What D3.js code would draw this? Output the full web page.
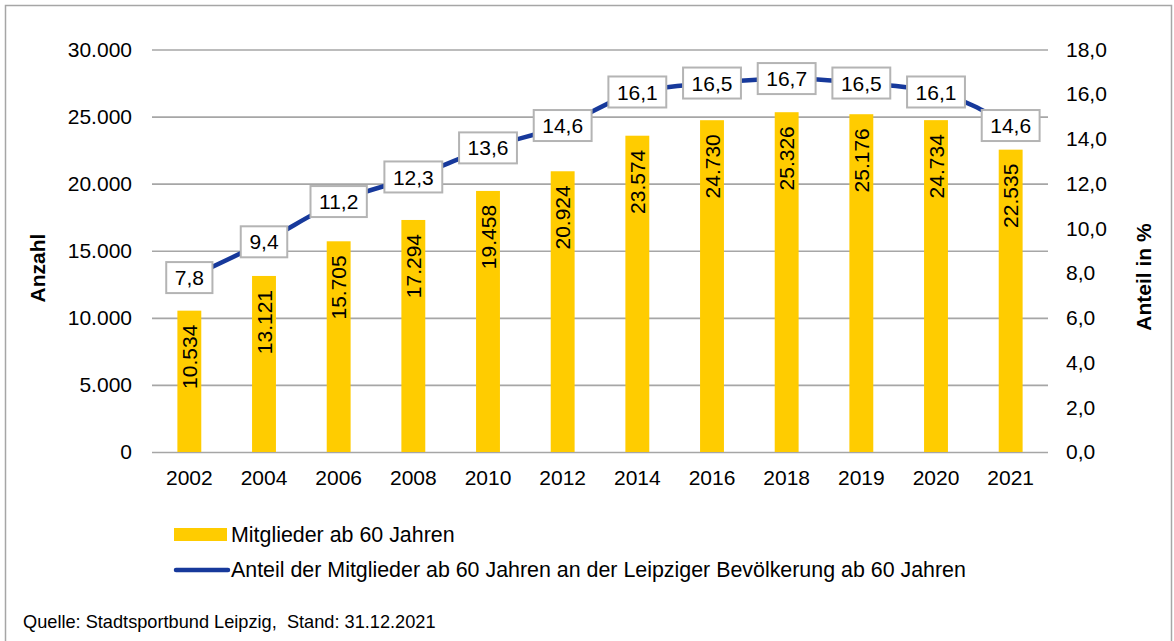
<!DOCTYPE html>
<meta charset="utf-8">
<style>

body {
  margin: 0;
  background: #fff;
}

text {
  font-family: "Liberation Sans", Arial, sans-serif;
  fill: #000;
}

.axis-title {
  font-weight: bold;
  font-size: 21px;
}

</style>
<body>
<script src="https://cdn.jsdelivr.net/npm/d3@7"></script>
<script>

var years = ["2002", "2004", "2006", "2008", "2010", "2012", "2014", "2016", "2018", "2019", "2020", "2021"],
	members = [10534, 13121, 15705, 17294, 19458, 20924, 23574, 24730, 25326, 25176, 24734, 22535],
	share = [7.8, 9.4, 11.2, 12.3, 13.6, 14.6, 16.1, 16.5, 16.7, 16.5, 16.1, 14.6],
	leftTicks = [0, 5000, 10000, 15000, 20000, 25000, 30000],
	rightTicks = [0, 2, 4, 6, 8, 10, 12, 14, 16, 18],
	legendLabels = ["Mitglieder ab 60 Jahren", "Anteil der Mitglieder ab 60 Jahren an der Leipziger Bevölkerung ab 60 Jahren"],
	source = "Quelle: Stadtsportbund Leipzig,\u00a0 Stand: 31.12.2021";

var width = 1174,
	height = 641,
	plot = {left: 152, right: 1048, top: 49.5, bottom: 452};

var de = d3.formatLocale({decimal: ",", thousands: ".", grouping: [3], currency: ["", " €"]}),
	fmtInt = de.format(",d"),
	fmtPct = de.format(".1f");

var svg = d3.select("body").append("svg")
	.attr("width", width)
	.attr("height", height);

// outer frame
svg.append("rect")
	.attr("x", 5.5).attr("y", 5.5)
	.attr("width", 1166).attr("height", 660)
	.attr("fill", "none")
	.attr("stroke", "#a6a6a6")
	.attr("stroke-width", 1.5);

var x = d3.scaleBand()
	.domain(years)
	.range([plot.left, plot.right])
	.paddingInner(0.68)
	.paddingOuter(0.34);

var yLeft = d3.scaleLinear().domain([0, 30000]).range([plot.bottom, plot.top]),
	yRight = d3.scaleLinear().domain([0, 18]).range([plot.bottom, plot.top]);

// gridlines + left axis
var leftAxis = svg.append("g")
	.attr("transform", "translate(" + plot.left + ",0)")
	.call(d3.axisLeft(yLeft).tickValues(leftTicks).tickFormat(fmtInt)
		.tickSize(-(plot.right - plot.left)).tickPadding(20));
leftAxis.select(".domain").remove();
leftAxis.selectAll("line").attr("stroke", "#a6a6a6").attr("stroke-width", 1.6);
leftAxis.selectAll("text")
	.attr("font-size", 21)
	.attr("font-family", "Liberation Sans, Arial, sans-serif");

// right axis
var rightAxis = svg.append("g")
	.attr("transform", "translate(" + plot.right + ",0)")
	.call(d3.axisRight(yRight).tickValues(rightTicks).tickFormat(fmtPct)
		.tickSize(0).tickPadding(18));
rightAxis.select(".domain").remove();
rightAxis.selectAll("text")
	.attr("font-size", 21)
	.attr("font-family", "Liberation Sans, Arial, sans-serif");

// bottom axis
var bottomAxis = svg.append("g")
	.attr("transform", "translate(0," + plot.bottom + ")")
	.call(d3.axisBottom(x).tickSize(0).tickPadding(18));
bottomAxis.select(".domain").remove();
bottomAxis.selectAll("text")
	.attr("font-size", 21)
	.attr("font-family", "Liberation Sans, Arial, sans-serif");

// bars
svg.append("g").selectAll("rect")
	.data(members)
	.enter().append("rect")
	.attr("x", function(d, i) { return x(years[i]); })
	.attr("y", function(d) { return yLeft(d); })
	.attr("width", x.bandwidth())
	.attr("height", function(d) { return plot.bottom - yLeft(d); })
	.attr("fill", "#ffcc00");

// bar labels
svg.append("g").selectAll("text")
	.data(members)
	.enter().append("text")
	.attr("transform", function(d, i) {
		return "translate(" + (x(years[i]) + x.bandwidth() / 2) + "," + (yLeft(d) + 14) + ") rotate(-90)";
	})
	.attr("text-anchor", "end")
	.attr("dy", "0.36em")
	.attr("font-size", 21)
	.text(function(d) { return fmtInt(d); });

// share line
var cx = function(i) { return x(years[i]) + x.bandwidth() / 2; };

var line = d3.line()
	.x(function(d, i) { return cx(i); })
	.y(function(d) { return yRight(d); })
	.curve(d3.curveMonotoneX);

svg.append("path")
	.datum(share)
	.attr("d", line)
	.attr("fill", "none")
	.attr("stroke", "#17399b")
	.attr("stroke-width", 4.5);

// line labels in boxes
var boxes = svg.append("g").selectAll("g")
	.data(share)
	.enter().append("g")
	.attr("transform", function(d, i) { return "translate(" + cx(i) + "," + yRight(d) + ")"; });

boxes.append("text")
	.attr("text-anchor", "middle")
	.attr("dy", "0.36em")
	.attr("font-size", 21)
	.text(function(d) { return fmtPct(d); });

boxes.each(function() {
	var g = d3.select(this),
		bb = g.select("text").node().getBBox(),
		w = bb.width + 17,
		h = 31;
	g.insert("rect", "text")
		.attr("x", -w / 2).attr("y", -h / 2)
		.attr("width", w).attr("height", h)
		.attr("fill", "#fff")
		.attr("stroke", "#b4b4b4")
		.attr("stroke-width", 2);
});

// axis titles
svg.append("text")
	.attr("class", "axis-title")
	.attr("transform", "translate(45,268) rotate(-90)")
	.attr("text-anchor", "middle")
	.text("Anzahl");

svg.append("text")
	.attr("class", "axis-title")
	.attr("transform", "translate(1151,277) rotate(-90)")
	.attr("text-anchor", "middle")
	.text("Anteil in %");

// legend
var legend = svg.append("g");
legend.append("rect")
	.attr("x", 174).attr("y", 528)
	.attr("width", 53).attr("height", 13)
	.attr("fill", "#ffcc00");
legend.append("line")
	.attr("x1", 176).attr("x2", 228)
	.attr("y1", 570).attr("y2", 570)
	.attr("stroke", "#17399b")
	.attr("stroke-width", 4.5)
	.attr("stroke-linecap", "round");
legend.selectAll("text")
	.data(legendLabels)
	.enter().append("text")
	.attr("x", 231)
	.attr("y", function(d, i) { return 542 + i * 35; })
	.attr("font-size", 21.4)
	.text(function(d) { return d; });

svg.append("text")
	.attr("x", 23)
	.attr("y", 628)
	.attr("font-size", 18.2)
	.text(source);

</script>
</body>
</html>
